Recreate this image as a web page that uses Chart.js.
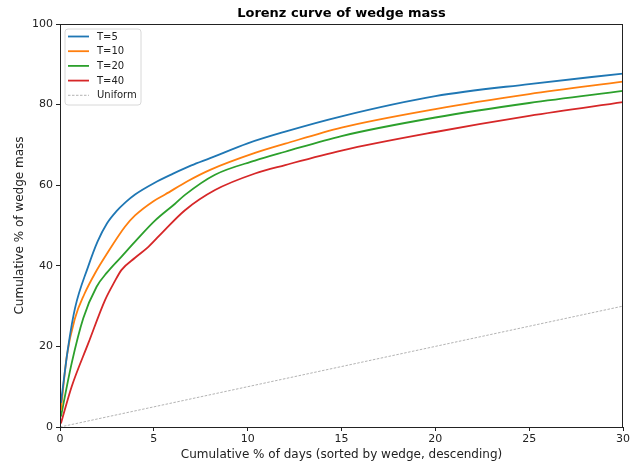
<!DOCTYPE html>
<html>
<head>
<meta charset="utf-8">
<script src="https://cdn.jsdelivr.net/npm/chart.js@4/dist/chart.umd.min.js"></script>
<style>
  html, body { margin: 0; padding: 0; background: #fff; }
  #wrap { width: 639px; height: 465px; }
</style>
</head>
<body>
<div id="wrap"><canvas id="chartCanvas"></canvas></div>
<script>
// values
const seriesNames = ["T=5", "T=10", "T=20", "T=40", "Uniform"];

const t5X = [0.05, 0.44, 0.8, 1.5, 2, 2.5, 3, 3.5, 4, 5, 6, 7, 8, 10, 12, 15, 20, 25, 30];
const t5Y = [6, 20, 29.5, 39.8, 46, 50.5, 53.5, 55.8, 57.7, 60.5, 62.8, 64.9, 66.7, 70.4, 73.3, 77.1, 82.1, 85.1, 87.7];

const t10X = [0.05, 0.36, 0.8, 1.3, 1.86, 2.5, 3.46, 4, 5, 5.6, 6.84, 8, 10.39, 12, 15, 20, 25, 30];
const t10Y = [4.2, 17.5, 27, 33, 38.1, 43, 49.7, 52.5, 56.1, 57.7, 61.1, 63.8, 68, 70.3, 74.3, 78.9, 82.6, 85.7];

const t20X = [0.05, 0.62, 1.24, 1.95, 2.5, 3.28, 4, 5.06, 6.13, 6.66, 8.26, 10.39, 12, 15, 20, 25, 30];
const t20Y = [2.6, 15.8, 27, 34.8, 38.3, 42.3, 46, 51.2, 55.4, 57.6, 62.6, 66.1, 68.3, 72.2, 76.8, 80.4, 83.4];

const t40X = [0.05, 0.62, 1.51, 2.4, 2.9, 3.28, 4, 4.71, 5.5, 6.66, 8.26, 10.39, 12, 15, 20, 25, 30];
const t40Y = [0.9, 10, 20.8, 31.5, 36, 39, 42, 44.7, 48.5, 53.8, 58.8, 62.9, 65, 68.6, 73.2, 77.2, 80.6];

const uniformX = [0, 30];
const uniformY = [0, 30];

const xTicks = [0, 5, 10, 15, 20, 25, 30];
const yTicks = [0, 20, 40, 60, 80, 100];

const colors = ["#1f77b4", "#ff7f0e", "#2ca02c", "#d62728", "#a0a0a0"];

function pts(xs, ys) {
  return xs.map((x, i) => ({ x: x, y: ys[i] }));
}

const font = "'DejaVu Sans', sans-serif";
Chart.defaults.font.family = font;
Chart.defaults.color = "#222";

const seriesData = [pts(t5X, t5Y), pts(t10X, t10Y), pts(t20X, t20Y), pts(t40X, t40Y), pts(uniformX, uniformY)];

const datasets = seriesData.map((d, i) => ({
  label: seriesNames[i],
  data: d,
  borderColor: colors[i],
  backgroundColor: colors[i],
  borderWidth: i === 4 ? 0.8 : 1.8,
  borderDash: i === 4 ? [2.5, 1.5] : [],
  pointRadius: 0,
  cubicInterpolationMode: "monotone",
  showLine: true,
  fill: false
}));

// matplotlib-style box and inset legend
const boxLegend = {
  id: "boxLegend",
  afterDraw(chart) {
    const ctx = chart.ctx;
    const a = chart.chartArea;
    ctx.save();
    ctx.strokeStyle = "#222";
    ctx.lineWidth = 1;
    ctx.strokeRect(a.left + 0.5, a.top + 0.5, a.right - a.left - 1, a.bottom - a.top);

    const x0 = a.left + 5, y0 = a.top + 5, w = 76, h = 76, r = 3;
    ctx.beginPath();
    ctx.moveTo(x0 + r, y0);
    ctx.arcTo(x0 + w, y0, x0 + w, y0 + h, r);
    ctx.arcTo(x0 + w, y0 + h, x0, y0 + h, r);
    ctx.arcTo(x0, y0 + h, x0, y0, r);
    ctx.arcTo(x0, y0, x0 + w, y0, r);
    ctx.closePath();
    ctx.fillStyle = "rgba(255,255,255,0.85)";
    ctx.fill();
    ctx.strokeStyle = "#d8d8d8";
    ctx.stroke();

    ctx.font = "10px " + font;
    ctx.textBaseline = "middle";
    chart.data.datasets.forEach((ds, i) => {
      const y = y0 + 7.5 + i * 14.7;
      ctx.beginPath();
      ctx.setLineDash(ds.borderDash || []);
      ctx.lineWidth = ds.borderWidth;
      ctx.strokeStyle = ds.borderColor;
      ctx.moveTo(x0 + 3, y);
      ctx.lineTo(x0 + 24, y);
      ctx.stroke();
      ctx.setLineDash([]);
      ctx.fillStyle = "#222";
      ctx.fillText(ds.label, x0 + 32, y + 0.5);
    });
    ctx.restore();
  }
};

new Chart(document.getElementById("chartCanvas"), {
  type: "scatter",
  data: { datasets: datasets },
  options: {
    responsive: true,
    maintainAspectRatio: false,
    animation: false,
    layout: { padding: { left: 0, right: 16, top: 0, bottom: 0 } },
    plugins: {
      legend: { display: false },
      tooltip: { enabled: false },
      title: {
        display: true,
        text: "Lorenz curve of wedge mass",
        fullSize: false,
        color: "#000",
        font: { size: 13, weight: "bold", family: font },
        padding: { top: 6, bottom: 2.4 }
      }
    },
    scales: {
      x: {
        type: "linear",
        min: 0,
        max: 30,
        afterFit(s) { s.height = 38; },
        afterBuildTicks(s) { s.ticks = xTicks.map(v => ({ value: v })); },
        grid: { display: true, drawOnChartArea: false, tickLength: 4, color: "#222" },
        border: { display: true, color: "#222" },
        ticks: { font: { size: 11 }, padding: 2, maxRotation: 0 },
        title: {
          display: true,
          text: "Cumulative % of days (sorted by wedge, descending)",
          font: { size: 12 },
          padding: { top: 0, bottom: 3 }
        }
      },
      y: {
        type: "linear",
        min: 0,
        max: 100,
        afterFit(s) { s.width = 60; },
        afterBuildTicks(s) { s.ticks = yTicks.map(v => ({ value: v })); },
        grid: { display: true, drawOnChartArea: false, tickLength: 4, color: "#222" },
        border: { display: true, color: "#222" },
        ticks: { font: { size: 11 }, padding: 3 },
        title: {
          display: true,
          text: "Cumulative % of wedge mass",
          font: { size: 12 },
          padding: { top: 13, bottom: 0 }
        }
      }
    }
  },
  plugins: [boxLegend]
});
</script>
</body>
</html>
